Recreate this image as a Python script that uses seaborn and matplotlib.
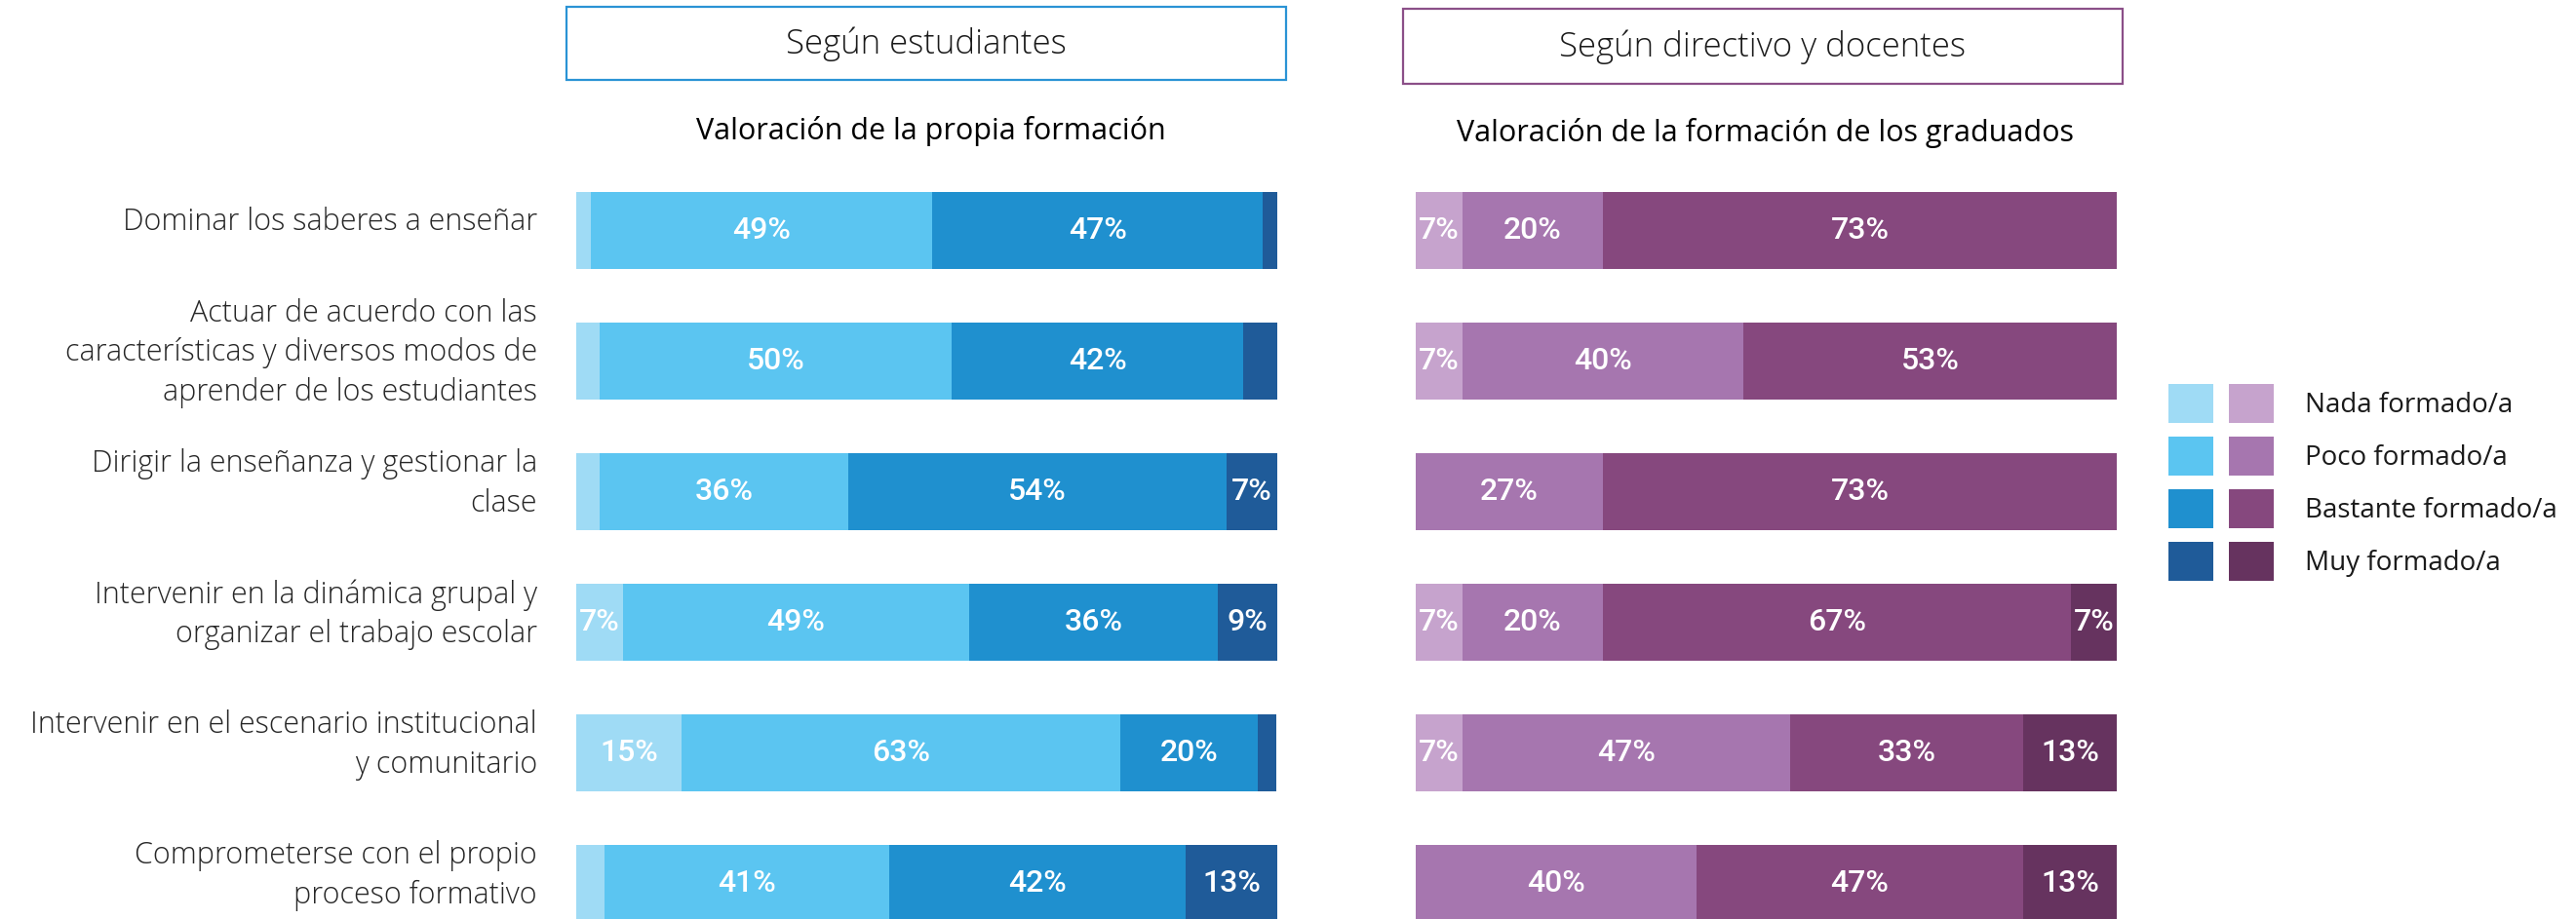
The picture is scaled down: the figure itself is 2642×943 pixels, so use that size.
import matplotlib.pyplot as plt
import pandas as pd
import seaborn as sns
from matplotlib.legend_handler import HandlerTuple
from matplotlib.patches import Patch, Rectangle
from matplotlib.transforms import ScaledTranslation, blended_transform_factory

# Competencias (etiquetas del eje y)
competencias = [
    'Dominar los saberes a enseñar',
    'Actuar de acuerdo con las\ncaracterísticas y diversos modos de\naprender de los estudiantes',
    'Dirigir la enseñanza y gestionar la\nclase',
    'Intervenir en la dinámica grupal y\norganizar el trabajo escolar',
    'Intervenir en el escenario institucional\ny comunitario',
    'Comprometerse con el propio\nproceso formativo',
]
niveles = ['Nada formado/a', 'Poco formado/a', 'Bastante formado/a', 'Muy formado/a']

# Según estudiantes (%)
est_nada = [2.1, 3.3, 3.3, 6.7, 15.0, 4.0]
est_poco = [48.7, 50.3, 35.5, 49.3, 62.6, 40.7]
est_bastante = [47.1, 41.6, 53.9, 35.5, 19.6, 42.2]
est_muy = [2.1, 4.8, 7.3, 8.6, 2.7, 13.2]

# Según directivo y docentes (%)
doc_nada = [6.7, 6.7, 0.0, 6.7, 6.7, 0.0]
doc_poco = [20.0, 40.0, 26.7, 20.0, 46.7, 40.0]
doc_bastante = [73.3, 53.3, 73.3, 66.7, 33.3, 46.7]
doc_muy = [0.0, 0.0, 0.0, 6.7, 13.3, 13.3]

colores_est = ['#9fdbf5', '#5bc5f1', '#1f90cf', '#1f5b99']
colores_doc = ['#c6a3cd', '#a676af', '#86487e', '#66335f']

sns.set_theme(style='white')
plt.rcParams['font.family'] = ['Open Sans', 'DejaVu Sans']

W, H = 2642, 943
fig = plt.figure(figsize=(W / 100, H / 100), dpi=100)

# ejes: barras de 0 a 100 %, centros de barra cada 134 px
y_top = 169.5
ax_est = fig.add_axes([591 / W, 0, 719 / W, (H - y_top) / H])
ax_doc = fig.add_axes([1452 / W, 0, 719 / W, (H - y_top) / H])


def barras_apiladas(ax, valores, colores):
    df = pd.DataFrame(dict(zip(niveles, valores)), index=competencias)
    acum = df.cumsum(axis=1)
    # se dibuja del acumulado mayor al menor para simular el apilado
    for nivel, color in reversed(list(zip(niveles, colores))):
        sns.barplot(x=acum[nivel].values, y=competencias, orient='h',
                    color=color, saturation=1, width=0.59, linewidth=0, ax=ax)
    for i, comp in enumerate(competencias):
        for nivel in niveles:
            v = df.loc[comp, nivel]
            if v >= 6:
                ax.text(acum.loc[comp, nivel] - v / 2, i, f'{v:.0f}%',
                        ha='center', va='center', color='white',
                        fontsize=23, fontweight='medium',
                        family=['Roboto', 'DejaVu Sans'])
    ax.set_xlim(0, 100)
    ax.set_ylim((H - y_top) / 134 - 0.5, -0.5)
    ax.set_xticks([])
    ax.set_yticks([])
    ax.set_xlabel('')
    ax.set_ylabel('')
    sns.despine(ax=ax, left=True, bottom=True)


barras_apiladas(ax_est, [est_nada, est_poco, est_bastante, est_muy], colores_est)
barras_apiladas(ax_doc, [doc_nada, doc_poco, doc_bastante, doc_muy], colores_doc)

# etiquetas de las competencias, alineadas a la derecha junto a las barras
trans = blended_transform_factory(ax_est.transAxes, ax_est.transData) + \
    ScaledTranslation(-0.40, 0.08, fig.dpi_scale_trans)
for i, comp in enumerate(competencias):
    ax_est.text(0, i, comp, transform=trans, ha='right', va='center',
                multialignment='right', fontsize=22, fontweight='light',
                color='#262626', linespacing=1.35)

# cajas de encabezado
fig.add_artist(Rectangle((581 / W, 1 - 82 / H), 738 / W, 75 / H, transform=fig.transFigure,
                         fill=False, edgecolor='#2a93d5', linewidth=1.6))
fig.add_artist(Rectangle((1439 / W, 1 - 86 / H), 738 / W, 77 / H, transform=fig.transFigure,
                         fill=False, edgecolor='#8b4f88', linewidth=1.6))
fig.text(950 / W, 1 - 45 / H, 'Según estudiantes', ha='center', va='center',
         fontsize=25, fontweight='light', color='#1a1a1a')
fig.text(1808 / W, 1 - 48 / H, 'Según directivo y docentes', ha='center', va='center',
         fontsize=25, fontweight='light', color='#1a1a1a')
fig.text(955 / W, 1 - 134 / H, 'Valoración de la propia formación', ha='center', va='center',
         fontsize=22, color='black')
fig.text(1810 / W, 1 - 136 / H, 'Valoración de la formación de los graduados', ha='center',
         va='center', fontsize=22, color='black')

# leyenda con dos cuadros por nivel
handles = [(Patch(facecolor=cb, edgecolor='none'), Patch(facecolor=cp, edgecolor='none'))
           for cb, cp in zip(colores_est, colores_doc)]
fig.legend(handles, niveles, handler_map={tuple: HandlerTuple(ndivide=None, pad=0.58)},
           loc='upper left', bbox_to_anchor=(2224 / W, 1 - 394 / H), frameon=False,
           fontsize=20, handlelength=3.89, handleheight=1.84, handletextpad=1.15,
           labelspacing=0.5, borderpad=0, borderaxespad=0, labelcolor='#1a1a1a')

fig.savefig('out.png', dpi=100)
